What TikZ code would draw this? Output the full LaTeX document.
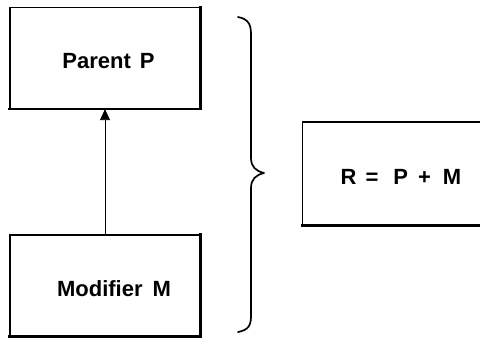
\documentclass[tikz,border=0pt]{standalone}
\usepackage{fontspec}
\setmainfont{Liberation Sans}
\usetikzlibrary{arrows.meta}
\begin{document}
\begin{tikzpicture}[x=1pt,y=-1pt,
  box/.style={draw, line width=1.2pt, minimum width=190pt, minimum height=101pt, inner sep=0pt},
  boxlabel/.style={font=\bfseries\fontsize{22}{26}\selectfont, anchor=base, inner sep=0pt},
  shade/.style={line width=2.4pt, line cap=rect},
  link/.style={line width=0.8pt, -{Triangle[length=11pt,width=10pt]}},
  brace/.style={line width=1.7pt, line cap=round, line join=round}]
  \useasboundingbox (0,0) rectangle (480,338);
  % parent and modifier boxes
  \node[box] (parent) at (105,58) {};
  \node[box] (modifier) at (105,285.5) {};
  \node[boxlabel] (ptext) at (108.5,68.3) {Parent\hspace{9pt}P};
  \node[boxlabel] (mtext) at (114,296) {Modifier\hspace{10pt}M};
  % heavier bottom and right edges
  \draw[shade] (parent.south west) -- (parent.south east) -- (parent.north east);
  \draw[shade] (modifier.south west) -- (modifier.south east) -- (modifier.north east);
  % inheritance arrow
  \draw[link] (modifier.north) -- (parent.south);
  % brace
  \coordinate (btop) at (238,17);
  \coordinate (btip) at (264,173);
  \coordinate (bbot) at (238,332);
  \draw[brace] (btop) .. controls (248,19) and (251,24) .. (251,34)
    -- (251,158) .. controls (251,167) and (256,171) .. (btip)
    .. controls (256,175) and (251,179) .. (251,188)
    -- (251,316) .. controls (251,326) and (248,330) .. (bbot);
  % result box, running past the right edge
  \node[draw, line width=1.2pt, minimum width=190pt, minimum height=103pt, inner sep=0pt, anchor=west] (result) at (302,173.5) {};
  \draw[shade] (result.south west) -- (result.south east);
  \node[boxlabel] (rtext) at (401,184) {R\hspace{9pt}=\hspace{15pt}P\hspace{10pt}+\hspace{12pt}M};
\end{tikzpicture}
\end{document}
